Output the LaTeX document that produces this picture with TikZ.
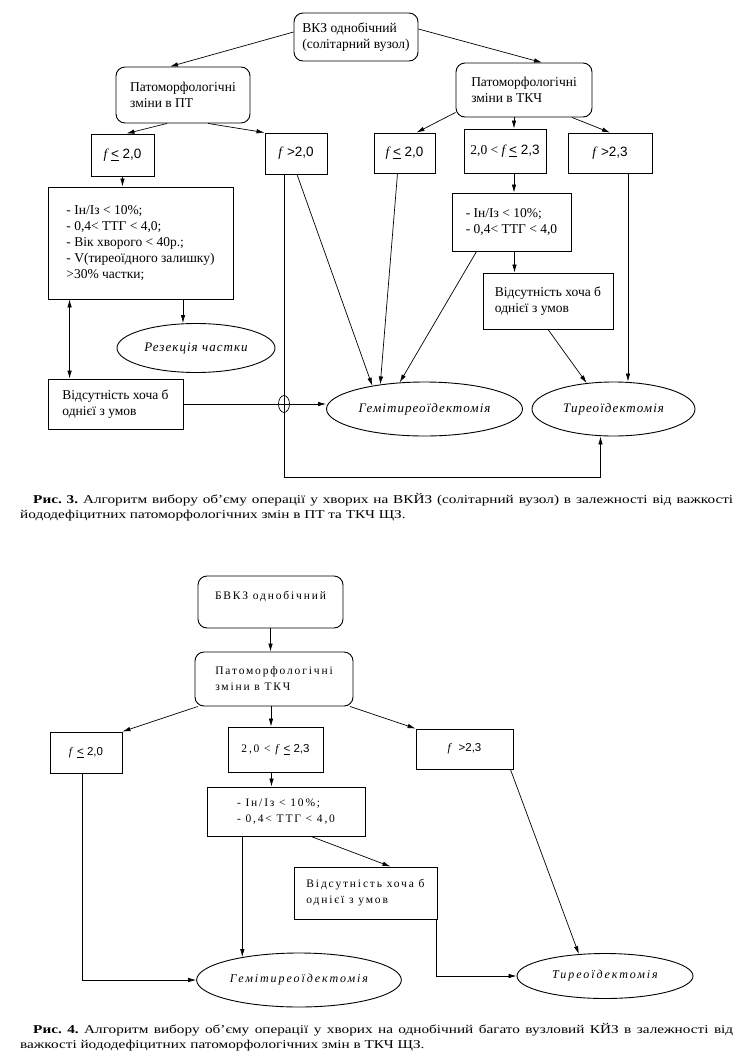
\documentclass[tikz,border=0pt]{standalone}
\usepackage{fontspec}
\setmainfont{Liberation Serif}
\setsansfont{Liberation Sans}
\newfontfamily\capfont[FakeStretch=1.27]{Liberation Serif}
\usetikzlibrary{arrows.meta,shapes.geometric}
\newcommand{\leqbar}{\underline{<}}
\newcommand{\boxfont}{\fontsize{13.5}{16}\selectfont}
\newcommand{\spacedfont}{\fontsize{11.5}{16}\selectfont\addfontfeatures{LetterSpace=16}}
\tikzset{
  stage/.style={rectangle,rounded corners=9pt,draw,line width=0.9pt,
    align=left,font=\boxfont},
  test/.style={rectangle,draw,line width=0.9pt,inner sep=3pt,align=left,font=\boxfont},
  outcome/.style={ellipse,draw,line width=0.9pt,
    font=\fontsize{13}{15}\selectfont\itshape\addfontfeatures{LetterSpace=8}},
  wide/.style={font=\spacedfont},
  wideit/.style={font=\fontsize{12}{14}\selectfont\itshape\addfontfeatures{LetterSpace=16}},
  arrow/.style={-{Latex[length=8pt,width=4.5pt]},line width=0.7pt},
  both/.style={{Latex[length=8pt,width=4.5pt]}-{Latex[length=8pt,width=4.5pt]},line width=0.7pt},
  caption/.style={anchor=north west,inner sep=0pt,text width=713pt,align=justify,
    font=\capfont\fontsize{12}{15.5}\selectfont\frenchspacing}
}

\begin{document}
\begin{tikzpicture}[x=1pt,y=-1pt]
\useasboundingbox (0,0) rectangle (741,1063);
% Рис. 3
\node[stage,minimum width=124,minimum height=48] (vkz) at (356,37) {ВКЗ однобічний\\(солітарний вузол)};
\node[stage,minimum width=134,minimum height=56] (ptPT) at (183,95) {Патоморфологічні\\зміни в ПТ};
\node[stage,minimum width=136,minimum height=54] (ptTKC) at (524,90) {Патоморфологічні\\зміни в ТКЧ};
\node[test,minimum width=63,minimum height=42] (fa) at (122.5,155) {\textit{f}\,\textsf{\leqbar\ 2,0}};
\node[test,minimum width=62,minimum height=41] (fb) at (296,153.5) {\textit{f}\ \textsf{>2,0}};
\node[test,minimum width=61,minimum height=40] (fc) at (404.5,153) {\textit{f}\,\textsf{\leqbar\ 2,0}};
\node[test,minimum width=82,minimum height=44] (fd) at (505,151) {2,0 < \textit{f}\,\textsf{\leqbar\ 2,3}};
\node[test,minimum width=84,minimum height=40] (fe) at (610,153) {\textit{f}\ \textsf{>2,3}};
\node[test,minimum width=185,minimum height=112] (cond1) at (140.5,243) {- Ін/Із < 10\%;\\- 0,4< ТТГ < 4,0;\\- Вік хворого < 40р.;\\- V(тиреоїдного залишку)\\>30\% частки;};
\node[test,minimum width=119,minimum height=58] (cond2) at (511.5,222) {- Ін/Із < 10\%;\\- 0,4< ТТГ < 4,0};
\node[outcome,minimum width=158,minimum height=49] (rez) at (196,348) {Резекція частки};
\node[test,minimum width=135,minimum height=50] (vids1) at (115.5,404) {Відсутність хоча б\\однієї з умов};
\node[test,minimum width=130,minimum height=56] (vids2) at (548,301) {Відсутність хоча б\\однієї з умов};
\node[outcome,minimum width=169,minimum height=54] (gemit) at (424.5,409) {Гемітиреоїдектомія};
\node[outcome,minimum width=163,minimum height=54] (tyr) at (613.5,409) {Тиреоїдектомія};

\draw[arrow] ([yshift=5pt]vkz.west) -- ([xshift=-13pt]ptPT.north);
\draw[arrow] ([yshift=8pt]vkz.east) -- ([xshift=18pt]ptTKC.north);
\draw[arrow] ([xshift=-16pt]ptPT.south) -- ([xshift=4pt]fa.north);
\draw[arrow] ([xshift=25pt]ptPT.south) -- (fb.north west);
\draw[arrow] ([yshift=5pt]ptTKC.south west) -- ([xshift=12pt]fc.north);
\draw[arrow] ([xshift=-10pt]ptTKC.south) -- ([xshift=-10pt]ptTKC.south |- fd.north);
\draw[arrow] ([xshift=48pt]ptTKC.south) -- (fe.north);
\draw[arrow] (fa.south) -- (fa.south |- cond1.north);
\draw[arrow] ([xshift=9pt]fd.south) -- ([xshift=9pt]fd.south |- cond2.north);
\draw[arrow] ([xshift=3pt]cond2.south) -- ([xshift=3pt]cond2.south |- vids2.north);
\draw[arrow] ([xshift=42.5pt]cond1.south) -- ([xshift=42.5pt]cond1.south |- rez.north);
\draw[both] ([xshift=22pt]cond1.south west) -- ([xshift=22pt]cond1.south west |- vids1.north);
\draw[arrow] (vids1.east) -- (vids1.east -| gemit.west);
\coordinate (hop) at ([xshift=-12pt]fb.south |- vids1.east);
\draw[line width=0.7pt] (hop) ellipse [x radius=5.5,y radius=8.5];
\draw[arrow] ([xshift=-12pt]fb.south) -- ++(0,303) -| ([xshift=-13pt]tyr.south);
\draw[arrow] ([xshift=1pt]fb.south) -- (gemit.156);
\draw[arrow] ([xshift=-7pt]fc.south) -- (gemit.151);
\draw[arrow] ([xshift=25pt]cond2.south west) -- (gemit.133);
\draw[arrow] (vids2.south) -- (tyr.136);
\draw[arrow] ([xshift=18pt]fe.south) -- ([xshift=18pt]fe.south |- tyr.north);

\node[caption] (cap3) at (20,493) {\hspace*{13pt}\textbf{Рис. 3.} Алгоритм вибору об’єму операції у хворих на ВКЙЗ (солітарний вузол) в залежності від важкості\linebreak йододефіцитних патоморфологічних змін в ПТ та ТКЧ ЩЗ.};

% Рис. 4
\node[stage,wide,minimum width=145,minimum height=52,text depth=14pt] (bvkz) at (270.5,602) {БВКЗ однобічний};
\node[stage,wide,minimum width=158,minimum height=54] (pt4) at (274,679) {Патоморфологічні\\зміни в ТКЧ};
\node[test,wide,minimum width=72,minimum height=41] (ga) at (86,752.5) {\textit{f}\,\textsf{\leqbar\ 2,0}};
\node[test,wide,minimum width=95,minimum height=45] (gb) at (275.5,749.5) {2,0 < \textit{f}\,\textsf{\leqbar\ 2,3}};
\node[test,wide,minimum width=97,minimum height=40] (gc) at (464.5,749) {\textit{f}\ \textsf{>2,3}};
\node[test,wide,minimum width=158,minimum height=49] (cond4) at (286,811.5) {- Ін/Із < 10\%;\\- 0,4< ТТГ < 4,0};
\node[test,wide,minimum width=143,minimum height=52] (vids4) at (365.5,893) {Відсутність хоча б\\однієї з умов};
\node[outcome,wideit,minimum width=204,minimum height=54] (gemit4) at (299,980) {Гемітиреоїдектомія};
\node[outcome,wideit,minimum width=176,minimum height=45] (tyr4) at (605,976) {Тиреоїдектомія};

\draw[arrow] (bvkz.south) -- (bvkz.south |- pt4.north);
\draw[arrow] ([xshift=-76pt]pt4.south) -- (ga.north east);
\draw[arrow] ([xshift=-3pt]pt4.south) -- ([xshift=-3pt]pt4.south |- gb.north);
\draw[arrow] ([xshift=76pt]pt4.south) -- (gc.north west);
\draw[arrow] ([xshift=-4pt]gb.south) -- ([xshift=-4pt]gb.south |- cond4.north);
\draw[arrow] ([xshift=25pt]cond4.south) -- ([xshift=25pt]vids4.north);
\draw[arrow] ([xshift=-4pt]ga.south) |- (gemit4.west);
\draw[arrow] (gemit4.158 |- cond4.south) -- (gemit4.158);
\draw[arrow] ([xshift=-3pt]gc.south east) -- (tyr4.140);
\draw[arrow] ([xshift=-1pt]vids4.south east) |- (tyr4.west);

\node[caption] (cap4) at (20,1023) {\hspace*{13pt}\textbf{Рис. 4.} Алгоритм вибору об’єму операції у хворих на однобічний багато вузловий КЙЗ в залежності від\linebreak важкості йододефіцитних патоморфологічних змін в ТКЧ ЩЗ.};
\end{tikzpicture}
\end{document}
